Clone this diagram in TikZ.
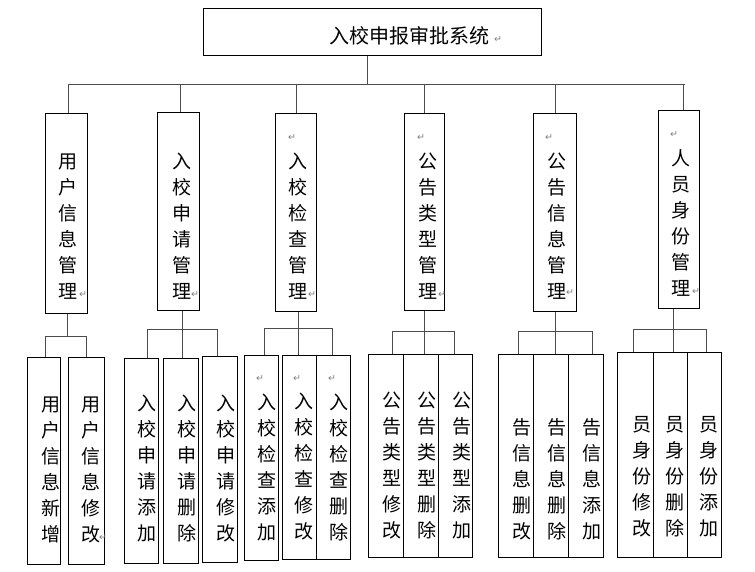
\documentclass[tikz,border=0pt]{standalone}
\usepackage{fontspec}
\newfontfamily\cjk{Noto Sans CJK SC}
\newfontfamily\dv{DejaVu Sans}
\tikzset{
  boxst/.style={draw=black, line width=1pt, inner sep=0pt},
  conn/.style={draw=black!70, line width=1pt},
  vt/.style={font=\cjk\fontsize{19}{26}\selectfont, align=center, inner sep=0pt},
  ttl/.style={font=\cjk\fontsize{20}{24}\selectfont, inner sep=0pt},
  ret/.style={font=\dv\fontsize{9.5}{9.5}\selectfont, text=black!50, inner sep=0pt}
}
\newcommand\mkbox[5]{%
  \pgfmathsetmacro\mkbw{#4-#2}\pgfmathsetmacro\mkbh{#5-#3}%
  \pgfmathsetmacro\mkbx{(#2+#4)/2}\pgfmathsetmacro\mkby{(#3+#5)/2}%
  \node[boxst, minimum width=\mkbw pt, minimum height=\mkbh pt] (#1) at (\mkbx,\mkby) {};}
\begin{document}
\begin{tikzpicture}[x=1pt,y=-1pt]
\useasboundingbox[fill=white] (0,0) rectangle (755,572);
% boxes
\mkbox{top}{203}{9}{541}{56}
\mkbox{L1a}{45}{114}{87}{313}
\mkbox{L1b}{157}{113}{199}{310}
\mkbox{L1c}{275}{114}{316}{311}
\mkbox{L1d}{404}{114}{444}{310}
\mkbox{L1e}{533}{114}{576}{311}
\mkbox{L1f}{658}{111}{699}{308}
\mkbox{a1}{27}{357}{60}{564}
\mkbox{a2}{68}{357}{104}{564}
\mkbox{b1}{124}{358}{158}{563}
\mkbox{b2}{163}{358}{198}{563}
\mkbox{b3}{202}{356}{237}{562}
\mkbox{c1}{244}{355}{278}{560}
\mkbox{c2}{282}{355}{316}{559}
\mkbox{c3}{316}{355}{350}{559}
\mkbox{d1}{368}{354}{403}{557}
\mkbox{d2}{403}{354}{438}{557}
\mkbox{d3}{438}{354}{472}{557}
\mkbox{e1}{498}{354}{533}{557}
\mkbox{e2}{533}{354}{568}{557}
\mkbox{e3}{568}{354}{603}{557}
\mkbox{f1}{617}{352}{653}{557}
\mkbox{f2}{653}{352}{687}{557}
\mkbox{f3}{687}{352}{721}{557}
% title
\node[ttl] (ttext) at (409,36) {入校申报审批系统};
\node[ret] (r0) at (498,40) {↵};
% level-1 texts
\node[vt] (tL1a) at (68,226.5) {用\\户\\信\\息\\管\\理};
\node[vt] (tL1b) at (182,226.5) {入\\校\\申\\请\\管\\理};
\node[vt] (tL1c) at (298,226.5) {入\\校\\检\\查\\管\\理};
\node[vt] (tL1d) at (428,226.5) {公\\告\\类\\型\\管\\理};
\node[vt] (tL1e) at (557,226.5) {公\\告\\信\\息\\管\\理};
\node[vt] (tL1f) at (681,222.5) {人\\员\\身\\份\\管\\理};
\node[ret] (r1) at (83,295) {↵};
\node[ret] (r2) at (195,295) {↵};
\node[ret] (r3a) at (292,138) {↵};
\node[ret] (r3b) at (312,295) {↵};
\node[ret] (r4a) at (421,138) {↵};
\node[ret] (r4b) at (442,295) {↵};
\node[ret] (r5a) at (549,138) {↵};
\node[ret] (r5b) at (570,293) {↵};
\node[ret] (r6a) at (674,135) {↵};
\node[ret] (r6b) at (696,292) {↵};
% level-2 texts
\node[vt] (ta1) at (51,469.5) {用\\户\\信\\息\\新\\增};
\node[vt] (ta2) at (91,469.5) {用\\户\\信\\息\\修\\改};
\node[ret] (ra2) at (103,538) {↵};
\node[vt] (tb1) at (147,468.5) {入\\校\\申\\请\\添\\加};
\node[vt] (tb2) at (187,468.5) {入\\校\\申\\请\\删\\除};
\node[vt] (tb3) at (226,468.5) {入\\校\\申\\请\\修\\改};
\node[vt] (tc1) at (267,467) {入\\校\\检\\查\\添\\加};
\node[vt] (tc2) at (304,467) {入\\校\\检\\查\\修\\改};
\node[vt] (tc3) at (339,467) {入\\校\\检\\查\\删\\除};
\node[ret] (rc1) at (260,379) {↵};
\node[ret] (rc2) at (297,379) {↵};
\node[ret] (rc3) at (332,379) {↵};
\node[vt] (td1) at (392,465.5) {公\\告\\类\\型\\修\\改};
\node[vt] (td2) at (427,465.5) {公\\告\\类\\型\\删\\除};
\node[vt] (td3) at (462,465.5) {公\\告\\类\\型\\添\\加};
\node[vt] (te1) at (522,479.5) {告\\信\\息\\删\\改};
\node[vt] (te2) at (557,479.5) {告\\信\\息\\删\\除};
\node[vt] (te3) at (592,479.5) {告\\信\\息\\添\\加};
\node[vt] (tf1) at (642,476.5) {员\\身\\份\\修\\改};
\node[vt] (tf2) at (675,476.5) {员\\身\\份\\删\\除};
\node[vt] (tf3) at (709,476.5) {员\\身\\份\\添\\加};
% top connectors
\coordinate (busL) at (68,85);
\coordinate (busR) at (685,85);
\draw[conn] (busL) -- (busR);
\draw[conn] (top.south -| 367,0) -- (busL -| 367,0);
\draw[conn] (busL -| 68,0) -- (L1a.north -| 68,0);
\draw[conn] (busL -| 180,0) -- (L1b.north -| 180,0);
\draw[conn] (busL -| 296,0) -- (L1c.north -| 296,0);
\draw[conn] (busL -| 424,0) -- (L1d.north -| 424,0);
\draw[conn] (busL -| 555,0) -- (L1e.north -| 555,0);
\draw[conn] (busL -| 683,0) -- (L1f.north -| 683,0);
% group 1
\coordinate (g1) at (45,336);
\draw[conn] (L1a.south -| 67,0) -- (g1 -| 67,0);
\draw[conn] (g1) -- (g1 -| 86,0);
\draw[conn] (g1) -- (a1.north -| 45,0);
\draw[conn] (g1 -| 86,0) -- (a2.north -| 86,0);
% group 2
\coordinate (g2) at (147,329);
\draw[conn] (L1b.south -| 182,0) -- (g2 -| 182,0);
\draw[conn] (g2) -- (g2 -| 217,0);
\draw[conn] (g2) -- (b1.north -| 147,0);
\draw[conn] (g2 -| 182,0) -- (b2.north -| 182,0);
\draw[conn] (g2 -| 217,0) -- (b3.north -| 217,0);
% group 3
\coordinate (g3) at (264,328);
\draw[conn] (L1c.south -| 298,0) -- (g3 -| 298,0);
\draw[conn] (g3) -- (g3 -| 332,0);
\draw[conn] (g3) -- (c1.north -| 264,0);
\draw[conn] (g3 -| 298,0) -- (c2.north -| 298,0);
\draw[conn] (g3 -| 332,0) -- (c3.north -| 332,0);
% group 4
\coordinate (g4) at (392,331);
\draw[conn] (L1d.south -| 424,0) -- (g4 -| 424,0);
\draw[conn] (g4) -- (g4 -| 454,0);
\draw[conn] (g4) -- (d1.north -| 392,0);
\draw[conn] (g4 -| 424,0) -- (d2.north -| 424,0);
\draw[conn] (g4 -| 454,0) -- (d3.north -| 454,0);
% group 5
\coordinate (g5) at (518,331);
\draw[conn] (L1e.south -| 555,0) -- (g5 -| 555,0);
\draw[conn] (g5) -- (g5 -| 592,0);
\draw[conn] (g5) -- (e1.north -| 518,0);
\draw[conn] (g5 -| 555,0) -- (e2.north -| 555,0);
\draw[conn] (g5 -| 592,0) -- (e3.north -| 592,0);
% group 6
\coordinate (g6) at (633,329);
\draw[conn] (L1f.south -| 673,0) -- (g6 -| 673,0);
\draw[conn] (g6) -- (g6 -| 706,0);
\draw[conn] (g6) -- (f1.north -| 633,0);
\draw[conn] (g6 -| 673,0) -- (f2.north -| 673,0);
\draw[conn] (g6 -| 706,0) -- (f3.north -| 706,0);
\end{tikzpicture}
\end{document}
